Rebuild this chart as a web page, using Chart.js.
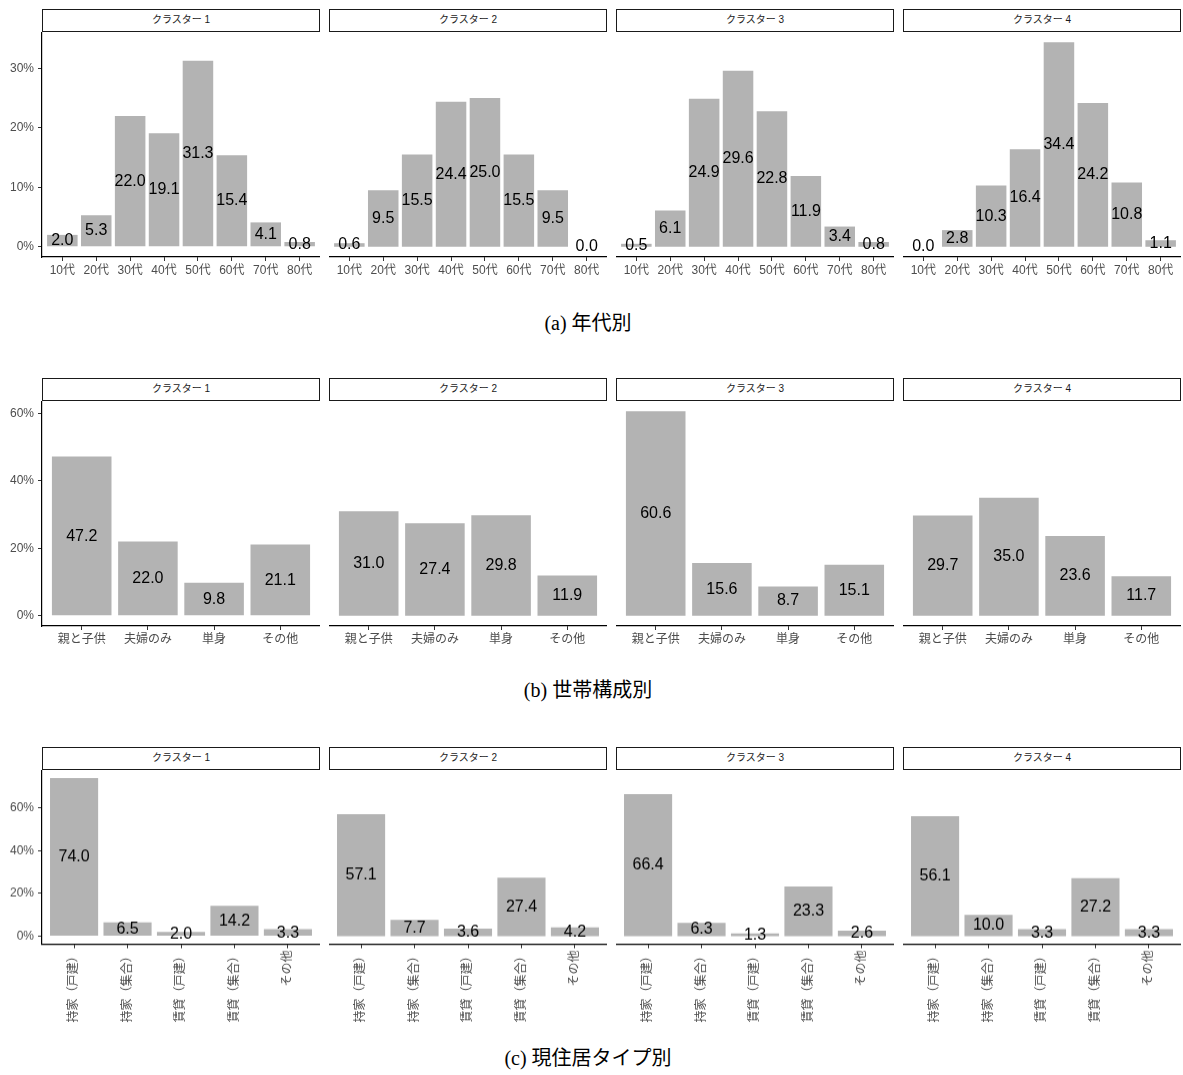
<!DOCTYPE html>
<html>
<head>
<meta charset="utf-8">
<script src="https://cdn.jsdelivr.net/npm/chart.js@4.4.1/dist/chart.umd.min.js"></script>
<style>
body{margin:0;background:#fff;width:1183px;height:1075px;position:relative;overflow:hidden;font-family:"Liberation Sans","Noto Sans CJK JP",sans-serif}
.strip{position:absolute;box-sizing:border-box;border:1.5px solid #1a1a1a;height:23px;width:278px;font-size:10px;text-align:center;line-height:20px;color:#1a1a1a;background:#fff}
.box{position:absolute}
.cap{position:absolute;left:0;width:1176px;text-align:center;font-family:"Liberation Serif","Noto Sans CJK JP",serif;font-size:20px;color:#000;line-height:24px}
</style>
</head>
<body>
<script>
// ---- data ----
const clusters = ["クラスター 1", "クラスター 2", "クラスター 3", "クラスター 4"];

// (a) 年代別
const ageCats = ["10代", "20代", "30代", "40代", "50代", "60代", "70代", "80代"];
const ageC1 = [2.0, 5.3, 22.0, 19.1, 31.3, 15.4, 4.1, 0.8];
const ageC2 = [0.6, 9.5, 15.5, 24.4, 25.0, 15.5, 9.5, 0.0];
const ageC3 = [0.5, 6.1, 24.9, 29.6, 22.8, 11.9, 3.4, 0.8];
const ageC4 = [0.0, 2.8, 10.3, 16.4, 34.4, 24.2, 10.8, 1.1];
const ageTicks = [0, 10, 20, 30];

// (b) 世帯構成別
const hhCats = ["親と子供", "夫婦のみ", "単身", "その他"];
const hhC1 = [47.2, 22.0, 9.8, 21.1];
const hhC2 = [31.0, 27.4, 29.8, 11.9];
const hhC3 = [60.6, 15.6, 8.7, 15.1];
const hhC4 = [29.7, 35.0, 23.6, 11.7];
const hhTicks = [0, 20, 40, 60];

// (c) 現住居タイプ別
const houseCats = ["持家（戸建）", "持家（集合）", "賃貸（戸建）", "賃貸（集合）", "その他"];
const houseC1 = [74.0, 6.5, 2.0, 14.2, 3.3];
const houseC2 = [57.1, 7.7, 3.6, 27.4, 4.2];
const houseC3 = [66.4, 6.3, 1.3, 23.3, 2.6];
const houseC4 = [56.1, 10.0, 3.3, 27.2, 3.3];
const houseTicks = [0, 20, 40, 60];

// ---- layout ----
const FONT = '"Liberation Sans", "Noto Sans CJK JP", sans-serif';
const panelX = [42, 329, 616, 903];
const panelW = 278, axisW = 42, stripH = 23;

const rows = [
  {cats: ageCats, series: [ageC1, ageC2, ageC3, ageC4], ticks: ageTicks, caption: "(a) 年代別", top: 32, plotH: 225, axisH: 30, capY: 311, rot: 0},
  {cats: hhCats, series: [hhC1, hhC2, hhC3, hhC4], ticks: hhTicks, caption: "(b) 世帯構成別", top: 401, plotH: 225, axisH: 30, capY: 678, rot: 0},
  {cats: houseCats, series: [houseC1, houseC2, houseC3, houseC4], ticks: houseTicks, caption: "(c) 現住居タイプ別", top: 770, plotH: 173.5, axisH: 80, capY: 1046, rot: 90}
];

// value labels at half bar height
const labelPlugin = {
  id: "vlabels",
  afterDatasetsDraw(chart){
    const ctx = chart.ctx, ds = chart.data.datasets[0], meta = chart.getDatasetMeta(0), ys = chart.scales.y;
    ctx.save();
    ctx.fillStyle = "#000"; ctx.font = "16px " + FONT;
    ctx.textAlign = "center"; ctx.textBaseline = "middle";
    meta.data.forEach((bar, k)=>{
      const v = ds.data[k].y;
      ctx.fillText(v.toFixed(1), bar.x, ys.getPixelForValue(v / 2));
    });
    ctx.restore();
  }
};

rows.forEach(row=>{
  const max = Math.max(...row.series.flat());
  const lo = -0.05 * max, hi = max * 1.05;

  const cap = document.createElement("div");
  cap.className = "cap"; cap.style.top = row.capY + "px"; cap.textContent = row.caption;
  document.body.appendChild(cap);

  row.series.forEach((vals, i)=>{
    const strip = document.createElement("div");
    strip.className = "strip";
    strip.style.left = panelX[i] + "px"; strip.style.top = (row.top - stripH) + "px";
    strip.textContent = clusters[i];
    document.body.appendChild(strip);

    const box = document.createElement("div");
    box.className = "box";
    box.style.left = (i === 0 ? panelX[0] - axisW : panelX[i]) + "px";
    box.style.top = row.top + "px";
    box.style.width = (i === 0 ? panelW + axisW : panelW) + "px";
    box.style.height = (row.plotH + row.axisH) + "px";
    const cv = document.createElement("canvas");
    box.appendChild(cv);
    document.body.appendChild(box);

    new Chart(cv, {
      type: "bar",
      data: {
        datasets: [{
          data: vals.map((v, k)=>({x: k + 1, y: v})),
          backgroundColor: "#b3b3b3", borderWidth: 0,
          barPercentage: 0.9, categoryPercentage: 1
        }]
      },
      options: {
        responsive: true, maintainAspectRatio: false, animation: false,
        layout: {padding: 0},
        plugins: {legend: {display: false}, tooltip: {enabled: false}},
        scales: {
          x: {
            type: "linear", min: 0.4, max: row.cats.length + 0.6, offset: false,
            afterBuildTicks: s=>{ s.ticks = row.cats.map((c, k)=>({value: k + 1})); },
            afterFit: s=>{ s.height = row.axisH; s.paddingLeft = 0; s.paddingRight = 0; },
            ticks: {autoSkip: false, callback: v=>row.cats[v - 1], color: "#4d4d4d",
                    font: {size: 12, family: FONT}, padding: 2,
                    minRotation: row.rot, maxRotation: row.rot},
            grid: {drawOnChartArea: false, drawTicks: true, tickLength: 4, color: "#333", offset: false},
            border: {display: true, color: "#000", width: 1.2}
          },
          y: {
            type: "linear", display: i === 0, min: lo, max: hi,
            afterBuildTicks: s=>{ s.ticks = row.ticks.map(v=>({value: v})); },
            afterFit: s=>{ s.width = i === 0 ? axisW : 0; s.paddingTop = 0; s.paddingBottom = 0; },
            ticks: {callback: v=>v + "%", color: "#4d4d4d", font: {size: 12, family: FONT}, padding: 4},
            grid: {drawOnChartArea: false, drawTicks: true, tickLength: 4, color: "#333"},
            border: {display: true, color: "#000", width: 1.2}
          }
        }
      },
      plugins: [labelPlugin]
    });
  });
});
</script>
</body>
</html>
